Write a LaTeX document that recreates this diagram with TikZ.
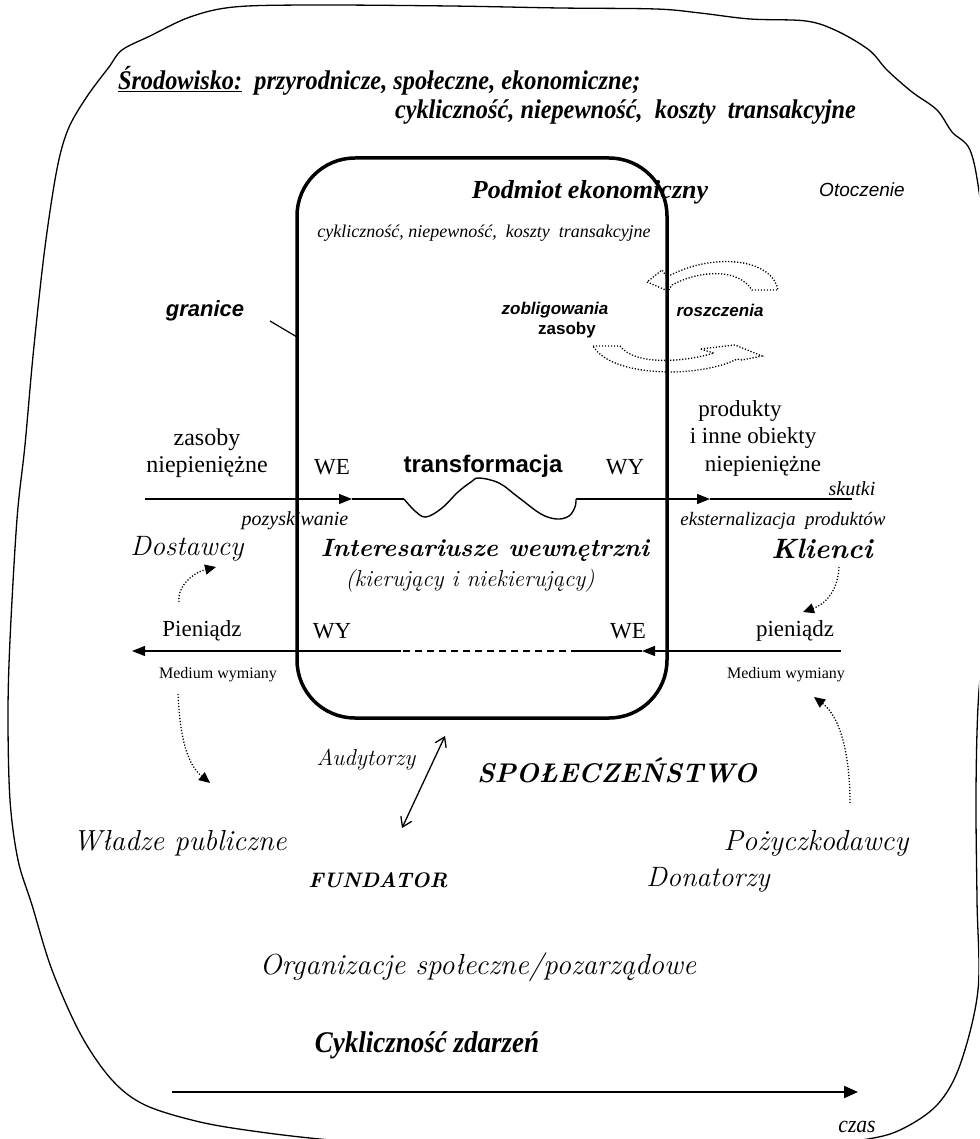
\documentclass[tikz,border=0pt]{standalone}
\usepackage{fontspec}
\newfontfamily\tnr{Liberation Serif}
\newfontfamily\tnrn[FakeStretch=0.9]{Liberation Serif}
\newfontfamily\arl{Liberation Sans}
\usetikzlibrary{arrows.meta}
\newcommand\fsz[1]{\fontsize{#1}{#1}\selectfont}

\tikzset{
  lbl/.style={inner sep=0pt, outer sep=0pt},
  tr/.style={lbl, font=\tnr\fsz{#1}}, tr/.default=23,
  ti/.style={lbl, font=\tnr\itshape\fsz{#1}},
  tbi/.style={lbl, font=\tnr\bfseries\itshape\fsz{#1}},
  tnbi/.style={lbl, font=\tnrn\bfseries\itshape\fsz{#1}},
  tni/.style={lbl, font=\tnrn\itshape\fsz{#1}},
  lmi/.style={lbl, font=\rmfamily\itshape\fsz{#1}}, lmi/.default=29,
  lmbi/.style={lbl, font=\rmfamily\bfseries\itshape\fsz{#1}},
  ari/.style={lbl, font=\arl\itshape\fsz{#1}},
  arb/.style={lbl, font=\arl\bfseries\fsz{#1}},
  arbi/.style={lbl, font=\arl\bfseries\itshape\fsz{#1}},
  flow/.style={line width=1.4pt},
  tip/.style={-{Triangle[length=13pt,width=10pt]}},
  dots/.style={line width=1.3pt, dash pattern=on 1.2pt off 1.8pt},
  dtip/.style={-{Triangle[length=11pt,width=10pt]}},
  edge/.style={line width=1.3pt},
}

\begin{document}
\begin{tikzpicture}[x=1pt,y=-1pt]
\useasboundingbox (0,0) rectangle (979,1139);
\clip (0,0) rectangle (979,1139);

% hand-drawn outline of the environment
\draw[edge] plot[smooth cycle, tension=0.55] coordinates {
  (70,125) (88,95) (109,67) (122,50) (150,36) (190,17) (234,7) (312,5)
  (450,6) (560,8) (656,9) (700,13) (750,19) (806,21) (837,31) (869,50)
  (887,70) (912,92) (937,110) (952,132) (970,150) (980,198) (992,300)
  (995,450) (990,600) (979,690) (976,790) (977,900) (978,990) (960,1065)
  (937,1105) (900,1130) (862,1140) (780,1150) (600,1155) (450,1150)
  (330,1140) (260,1132) (200,1122) (145,1105) (112,1080) (81,1035)
  (52,970) (32,905) (18,860) (10,800) (8,716) (10,640) (17,519) (25,445)
  (33,356) (43,263) (52,198) (60,155)};

% economic entity
\node[draw, line width=3.5pt, rounded corners=58pt, minimum width=370pt,
      minimum height=560pt, inner sep=0pt] (box) at (482,438) {};

% environment heading
\node[tnbi=27, anchor=west] (srod1) at (118,81)
  {\underline{Środowisko:}~~przyrodnicze, społeczne, ekonomiczne;};
\node[tnbi=27, anchor=east] (srod2) at (856,112)
  {cykliczność, niepewność,~~koszty~~transakcyjne};

\node[tbi=26] (podmiot) at (590,192) {Podmiot ekonomiczny};
\node[ari=19] (otocz) at (862,190) {Otoczenie};
\node[ti=18] (cykl) at (484,233) {cykliczność, niepewność,~~koszty~~transakcyjne};

\node[arbi=22] (granice) at (205,311) {granice};
\coordinate (gr0) at (270,321);
\coordinate (gr1) at (297,337);
\draw[line width=1.2pt] (gr0) -- (gr1);

\node[arbi=17] (zobl) at (555,310) {zobligowania};
\node[arb=17] (zas2) at (567,330) {zasoby};
\node[arbi=17] (rosz) at (720,310) {roszczenia};

% exchange of obligations and claims across the boundary
\draw[dots] (647,282) -- (668,291) -- (672,285)
  .. controls (700,270) and (738,268) .. (752,290) -- (778,290)
  .. controls (772,258) and (712,252) .. (667,277) -- (662,270) -- cycle;
\draw[dots] (593,346) -- (620,346)
  .. controls (635,366) and (685,362) .. (714,353) -- (700,349)
  -- (735,345) -- (762,356) -- (742,360) -- (737,359)
  .. controls (700,378) and (612,378) .. (593,346) -- cycle;

% real flow
\node[tr=24] (zas1) at (207,440) {zasoby};
\node[tr=24] (niep1) at (207,467) {niepieniężne};
\node[tr] (we1) at (332,467) {WE};
\node[arb=24] (transf) at (483,466) {transformacja};
\node[tr] (wy1) at (625,467) {WY};
\node[tr] (prod) at (740,411) {produkty};
\node[tr] (inne) at (753,438) {i inne obiekty};
\node[tr] (niep2) at (763,466) {niepieniężne};
\node[ti=20] (skutki) at (852,489) {skutki};
\node[ti=20] (pozysk) at (295,521) {pozyskiwanie};
\node[ti=19] (ekst) at (783,521) {eksternalizacja~~produktów};

\coordinate (r0) at (145,499);
\coordinate (r1) at (352,499);
\coordinate (r2) at (404,499);
\coordinate (r3) at (576,499);
\coordinate (r4) at (710,499);
\coordinate (r5) at (852,499);
\draw[flow, tip] (r0) -- (r1);
\draw[flow] (r1) -- (r2);
\draw[flow] plot[smooth, tension=0.6] coordinates {
  (404,499) (415,511) (426,517) (442,508) (458,492) (471,482) (479,478)
  (499,483) (518,497) (541,514) (557,519) (569,516) (575,507) (576,499)};
\draw[flow, tip] (r3) -- (r4);
\draw[flow] (r4) -- (r5);

\node[lmi=28] (dost) at (187,549) {Dostawcy};
\node[lmbi=25] (inter) at (485,550) {Interesariusze wewnętrzni};
\node[lmi=23] (kier) at (470,581) {(kierujący i niekierujący)};
\node[lmbi=28] (klienci) at (822,549) {Klienci};

% money flow
\node[tr] (pien1) at (202,631) {Pieniądz};
\node[tr] (wy2) at (332,631) {WY};
\node[tr] (we2) at (628,631) {WE};
\node[tr] (pien2) at (795,631) {pieniądz};
\node[tr=16] (med1) at (218,675) {Medium wymiany};
\node[tr=16] (med2) at (786,675) {Medium wymiany};

\coordinate (m0) at (841,651);
\coordinate (m1) at (642,651);
\coordinate (m2) at (578,651);
\coordinate (m3) at (401,651);
\coordinate (m4) at (132,651);
\draw[flow, tip] (m0) -- (m1);
\draw[flow] (m1) -- (m2);
\draw[flow, dash pattern=on 7pt off 5pt] (m2) -- (m3);
\draw[flow, tip] (m3) -- (m4);

% dotted hints
\coordinate (d1a) at (179,602);
\coordinate (d1b) at (216,567);
\draw[dots, dtip] (d1a) .. controls (177,585) and (195,572) .. (d1b);
\coordinate (d2a) at (839,567);
\coordinate (d2b) at (803,612);
\draw[dots, dtip] (d2a) .. controls (838,590) and (826,604) .. (d2b);
\coordinate (d3a) at (178,694);
\coordinate (d3b) at (210,783);
\draw[dots, dtip] (d3a) .. controls (180,740) and (188,765) .. (d3b);
\coordinate (d4a) at (850,803);
\coordinate (d4b) at (814,697);
\draw[dots, dtip] (d4a) .. controls (850,760) and (842,718) .. (d4b);

% society
\node[lmi=23] (audyt) at (366,760) {Audytorzy};
\coordinate (au0) at (402,828);
\coordinate (au1) at (445,736);
\draw[line width=1.3pt, {Straight Barb[length=9pt,width=12pt]}-{Straight Barb[length=9pt,width=12pt]}] (au0) -- (au1);
\node[lmbi=27] (spol) at (617,770) {SPOŁECZEŃSTWO};
\node[lmi] (wladze) at (180,843) {Władze publiczne};
\node[lmi] (pozycz) at (816,843) {Pożyczkodawcy};
\node[lmbi=21] (fund) at (378,880) {FUNDATOR};
\node[lmi=28] (donat) at (708,880) {Donatorzy};
\node[lmi] (org) at (478,967) {Organizacje społeczne/pozarządowe};

% time axis
\node[tnbi=30] (zdarz) at (427,1045) {Cykliczność zdarzeń};
\coordinate (t0) at (172,1092);
\coordinate (t1) at (858,1092);
\draw[line width=2pt, -{Triangle[length=14pt,width=12pt]}] (t0) -- (t1);
\node[tni=24] (czas) at (857,1127) {czas};
\end{tikzpicture}
\end{document}
